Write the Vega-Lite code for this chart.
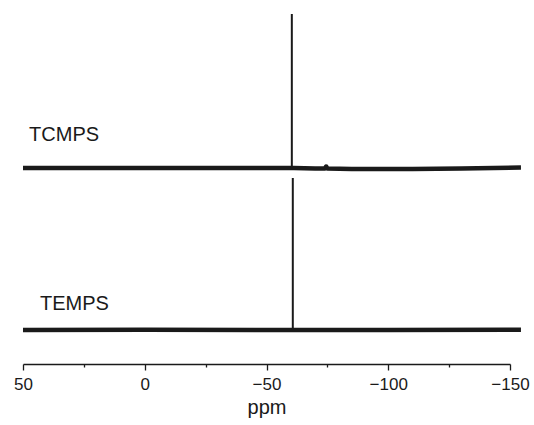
{
  "$schema": "https://vega.github.io/schema/vega-lite/v6.json",
  "width": 487,
  "height": 354,
  "autosize": {"type": "none"},
  "padding": {"left": 23, "top": 10, "right": 24, "bottom": 61},
  "config": {"view": {"stroke": null}, "font": "Liberation Sans"},
  "datasets": {
    "baseline": [
      {"trace": "TCMPS", "ppm": 50, "intensity": 196},
      {"trace": "TCMPS", "ppm": 30, "intensity": 196},
      {"trace": "TCMPS", "ppm": 0, "intensity": 196},
      {"trace": "TCMPS", "ppm": -30, "intensity": 196},
      {"trace": "TCMPS", "ppm": -50, "intensity": 196},
      {"trace": "TCMPS", "ppm": -59.6, "intensity": 196},
      {"trace": "TCMPS", "ppm": -61.2, "intensity": 196},
      {"trace": "TCMPS", "ppm": -70, "intensity": 195.5},
      {"trace": "TCMPS", "ppm": -74, "intensity": 195.5},
      {"trace": "TCMPS", "ppm": -74.5, "intensity": 197.5},
      {"trace": "TCMPS", "ppm": -75, "intensity": 195.5},
      {"trace": "TCMPS", "ppm": -85, "intensity": 195},
      {"trace": "TCMPS", "ppm": -110, "intensity": 195},
      {"trace": "TCMPS", "ppm": -130, "intensity": 195.5},
      {"trace": "TCMPS", "ppm": -154.5, "intensity": 196.5},
      {"trace": "TEMPS", "ppm": 50, "intensity": 34},
      {"trace": "TEMPS", "ppm": 0, "intensity": 34.3},
      {"trace": "TEMPS", "ppm": -60, "intensity": 34},
      {"trace": "TEMPS", "ppm": -100, "intensity": 34},
      {"trace": "TEMPS", "ppm": -154.5, "intensity": 34.3}
    ],
    "peaks": [
      {"trace": "TCMPS", "ppm": -60.4, "base": 196, "top": 350},
      {"trace": "TEMPS", "ppm": -60.8, "base": 34, "top": 186}
    ],
    "labels": [
      {"label": "TCMPS", "ppm": 47.5, "intensity": 223},
      {"label": "TEMPS", "ppm": 43, "intensity": 54}
    ]
  },
  "layer": [
    {
      "data": {"name": "baseline"},
      "mark": {"type": "line", "strokeWidth": 4.5, "color": "#1a1a1a", "clip": false, "strokeJoin": "round"},
      "encoding": {
        "x": {
          "field": "ppm",
          "type": "quantitative",
          "scale": {"domain": [-150, 50], "reverse": true, "nice": false, "zero": false},
          "axis": {
            "values": [50, 25, 0, -25, -50, -75, -100, -125, -150],
            "labelExpr": "datum.value % 50 === 0 ? datum.label : ''",
            "tickSize": {"condition": {"test": "datum.value % 50 === 0", "value": 6}, "value": 3},
            "tickColor": "#1a1a1a",
            "tickWidth": 1.3,
            "domainColor": "#1a1a1a",
            "domainWidth": 1.3,
            "labelFontSize": 17,
            "labelColor": "#1a1a1a",
            "labelPadding": 6,
            "labelFlush": false,
            "labelOverlap": false,
            "grid": false,
            "title": "ppm",
            "titleFontSize": 20,
            "titleFontWeight": "normal",
            "titleColor": "#1a1a1a",
            "titlePadding": 5
          }
        },
        "y": {
          "field": "intensity",
          "type": "quantitative",
          "scale": {"domain": [0, 354], "nice": false, "zero": false},
          "axis": null
        },
        "detail": {"field": "trace"}
      }
    },
    {
      "data": {"name": "peaks"},
      "mark": {"type": "rule", "strokeWidth": 2, "color": "#1a1a1a"},
      "encoding": {
        "x": {"field": "ppm", "type": "quantitative"},
        "y": {"field": "base", "type": "quantitative"},
        "y2": {"field": "top"}
      }
    },
    {
      "data": {"name": "labels"},
      "mark": {"type": "text", "align": "left", "baseline": "alphabetic", "fontSize": 20, "font": "Liberation Sans", "color": "#1a1a1a"},
      "encoding": {
        "x": {"field": "ppm", "type": "quantitative"},
        "y": {"field": "intensity", "type": "quantitative"},
        "text": {"field": "label"}
      }
    }
  ]
}
